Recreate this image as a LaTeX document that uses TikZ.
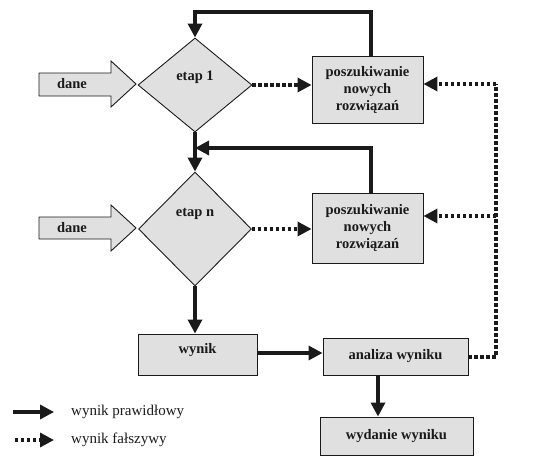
\documentclass[tikz,border=0pt]{standalone}
\usepackage{fontspec}
\setmainfont{Liberation Serif}
\usetikzlibrary{arrows.meta,shapes.geometric}
\definecolor{boxfill}{HTML}{E0E0E0}
\definecolor{ink}{HTML}{1A1A1A}
\tikzset{
  x=1pt,y=-1pt,
  box/.style={draw=ink,line width=0.9pt,fill=boxfill,rectangle,inner sep=0pt,
    font=\bfseries\fontsize{14.5}{17}\selectfont,align=center,text=ink},
  dia/.style={draw=ink,line width=0.9pt,fill=boxfill,diamond,inner sep=0pt},
  lbl/.style={font=\bfseries\fontsize{14.5}{17}\selectfont,text=ink,inner sep=0pt},
  leg/.style={font=\fontsize{15}{17}\selectfont,text=ink,inner sep=0pt,anchor=west},
  ok/.style={draw=ink,line width=3.3pt,-{Triangle[length=14pt,width=14pt]}},
  bad/.style={draw=ink,line width=3.3pt,dash pattern=on 3.3pt off 2.7pt,-{Triangle[length=14pt,width=14pt]}},
  badline/.style={draw=ink,line width=3.3pt,dash pattern=on 3.3pt off 2.7pt},
  inarrow/.style={draw=ink,line width=0.9pt,fill=boxfill},
}
\begin{document}
\begin{tikzpicture}
\useasboundingbox (0,0) rectangle (538,463);
% diamonds
\node[dia,minimum width=114pt,minimum height=94pt] (d1) at (195,85) {};
\node[lbl] (d1t) at (195,77) {etap 1};
\node[dia,minimum width=113pt,minimum height=114pt] (dn) at (195,229) {};
\node[lbl] (dnt) at (195,214) {etap n};
% boxes
\node[box,minimum width=111pt,minimum height=67pt] (p1) at (367.5,89.5) {poszukiwanie\\nowych\\rozwiązań};
\node[box,minimum width=111pt,minimum height=70pt] (p2) at (367.5,228) {poszukiwanie\\nowych\\rozwiązań};
\node[box,minimum width=119pt,minimum height=41pt] (w) at (197.5,354.5) {};
\node[lbl] (wt) at (197.5,350) {wynik};
\node[box,minimum width=145pt,minimum height=37pt] (a) at (395.5,356.5) {analiza wyniku};
\node[box,minimum width=153pt,minimum height=38pt] (wy) at (396.5,436) {wydanie wyniku};
% input arrows
\draw[inarrow] (39,73) -- (111,73) -- (111,61) -- (136,84) -- (111,107) -- (111,96) -- (39,96) -- cycle;
\node[lbl] (in1) at (72,84) {dane};
\draw[inarrow] (39,217) -- (111,217) -- (111,205) -- (136,228) -- (111,251) -- (111,239) -- (39,239) -- cycle;
\node[lbl] (in2) at (72,228) {dane};
% coordinates
\coordinate (c1) at (371,12);
\coordinate (c2) at (195,12);
\coordinate (c3) at (371,148);
\coordinate (c4) at (195,148);
\coordinate (r0) at (496,357);
\coordinate (r1) at (496,84);
\coordinate (r2) at (496,216);
% solid connectors
\draw[ok] (p1.north -| c1) -- (c1) -- (c2) -- (d1.north);
\draw[line width=3.3pt,draw=ink] (d1.south) -- (c4);
\draw[ok] (c4) -- (dn.north);
\draw[ok] (p2.north -| c3) -- (c3) -- (c4);
\draw[ok] (dn.south) -- (w.north -| dn.south);
\draw[ok] (w.east |- 0,353) -- (a.west |- 0,353);
\draw[ok] (a.south -| 378,0) -- (wy.north -| 378,0);
% dotted connectors
\draw[bad] (d1.east) -- (p1.west |- d1.east);
\draw[bad] (dn.east) -- (p2.west |- dn.east);
\draw[badline] (a.east |- r0) -- (r0) -- (r1);
\draw[bad] (r1) -- (p1.east |- r1);
\draw[bad] (r2) -- (p2.east |- r2);
% legend
\coordinate (l1a) at (13,412);
\coordinate (l1b) at (54,412);
\coordinate (l2a) at (15,440);
\coordinate (l2b) at (54,440);
\draw[ok] (l1a) -- (l1b);
\draw[bad] (l2a) -- (l2b);
\node[leg] (lt1) at (71,412) {wynik prawidłowy};
\node[leg] (lt2) at (71,440) {wynik fałszywy};
\end{tikzpicture}
\end{document}
